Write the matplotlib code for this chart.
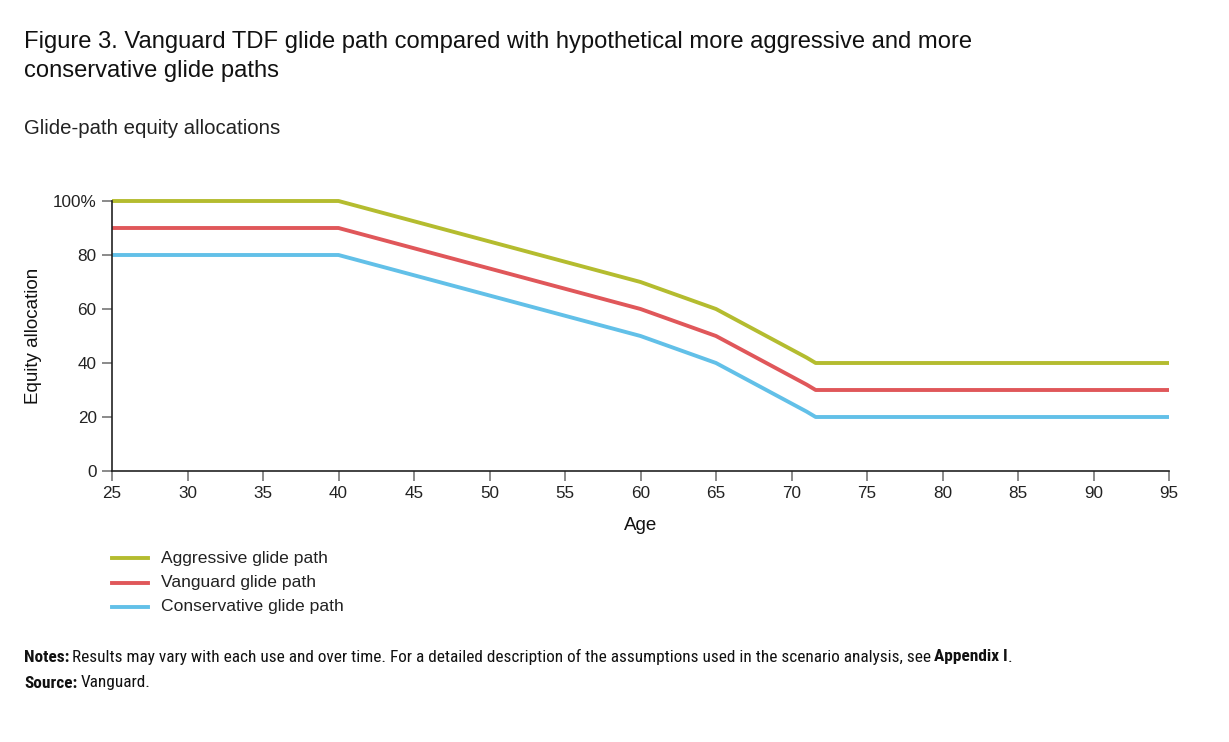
import matplotlib
matplotlib.use("Agg")
import matplotlib.pyplot as plt
from matplotlib.lines import Line2D

ages = [25, 40, 41, 42, 43, 44, 45, 46, 47, 48, 49, 50, 51, 52, 53, 54, 55, 56, 57, 58,
        59, 60, 61, 62, 63, 64, 65, 66, 67, 68, 69, 70, 71, 71.6, 95]
vanguard = [90, 90, 88.5, 87, 85.5, 84, 82.5, 81, 79.5, 78, 76.5, 75, 73.5, 72, 70.5, 69,
            67.5, 66, 64.5, 63, 61.5, 60, 58, 56, 54, 52, 50, 47, 44, 41,
            38, 35, 32, 30, 30]
aggressive = [100, 100, 98.5, 97, 95.5, 94, 92.5, 91, 89.5, 88, 86.5, 85, 83.5, 82, 80.5, 79,
              77.5, 76, 74.5, 73, 71.5, 70, 68, 66, 64, 62, 60, 57, 54, 51,
              48, 45, 42, 40, 40]
conservative = [80, 80, 78.5, 77, 75.5, 74, 72.5, 71, 69.5, 68, 66.5, 65, 63.5, 62, 60.5, 59,
                57.5, 56, 54.5, 53, 51.5, 50, 48, 46, 44, 42, 40, 37, 34, 31,
                28, 25, 22, 20, 20]

series_names = ["Aggressive glide path", "Vanguard glide path", "Conservative glide path"]
colors = ["#B4BC2F", "#E0575A", "#62C0E8"]
xticks = [25, 30, 35, 40, 45, 50, 55, 60, 65, 70, 75, 80, 85, 90, 95]
yticks = [0, 20, 40, 60, 80, 100]
ytick_labels = ["0", "20", "40", "60", "80", "100%"]

plt.rcParams['font.family'] = ['Liberation Sans', 'DejaVu Sans']
W, H = 1229, 742
fig = plt.figure(figsize=(W / 100, H / 100), dpi=100)
ax = fig.add_axes([112 / W, 1 - 471 / H, 1057 / W, 270 / H])

for vals, c in zip([aggressive, vanguard, conservative], colors):
    ax.plot(ages, vals, color=c, lw=2.8, solid_capstyle='butt', clip_on=False)

ax.set_xlim(25, 95)
ax.set_ylim(0, 100)
ax.set_xticks(xticks)
ax.set_yticks(yticks)
ax.set_yticklabels(ytick_labels)
for s in ["top", "right"]:
    ax.spines[s].set_visible(False)
for s in ["left", "bottom"]:
    ax.spines[s].set_color("#222222")
    ax.spines[s].set_linewidth(1.2)
ax.tick_params(axis='both', direction='out', length=7, width=1.2, color="#777777",
               labelsize=12.3, labelcolor="#222222", pad=4)
ax.set_xlabel("Age", fontsize=13.5, color="#111111", labelpad=11)
ax.set_ylabel("Equity allocation", fontsize=13.5, color="#111111", labelpad=8)

fig.text(24 / W, 1 - 42 / H, "Figure 3. Vanguard TDF glide path compared with hypothetical more aggressive and more",
         fontsize=17.1, color="#111111", va='center', ha='left')
fig.text(24 / W, 1 - 71 / H, "conservative glide paths",
         fontsize=17.1, color="#111111", va='center', ha='left')
fig.text(24 / W, 1 - 129 / H, "Glide-path equity allocations",
         fontsize=14.7, color="#222222", va='center', ha='left')

# legend
for i, (name, c) in enumerate(zip(series_names, colors)):
    y = 1 - (558 + 24.5 * i) / H
    fig.add_artist(Line2D([112 / W, 148 / W], [y, y], color=c, lw=2.8, transform=fig.transFigure))
    fig.text(161 / W, y, name, fontsize=12.6, color="#222222", va='center', ha='left')

narrow = ['Liberation Sans Narrow', 'Roboto Condensed', 'DejaVu Sans']
fs_n = 12.4
y1 = 1 - 657 / H
t = fig.text(24 / W, y1, "Notes:", fontsize=fs_n, fontweight='bold', family=narrow, va='center', ha='left', color="#111111")
fig.canvas.draw()
r = fig.canvas.get_renderer()
bb = t.get_window_extent(r)
t2 = fig.text(bb.x1 / W + 3 / W, y1, "Results may vary with each use and over time. For a detailed description of the assumptions used in the scenario analysis, see",
              fontsize=fs_n, family=narrow, va='center', ha='left', color="#111111")
bb2 = t2.get_window_extent(r)
t3 = fig.text(bb2.x1 / W + 3 / W, y1, "Appendix I", fontsize=fs_n, fontweight='bold', family=narrow, va='center', ha='left', color="#111111")
bb3 = t3.get_window_extent(r)
fig.text(bb3.x1 / W, y1, ".", fontsize=fs_n, family=narrow, va='center', ha='left', color="#111111")

y2 = 1 - 683 / H
t = fig.text(24 / W, y2, "Source:", fontsize=fs_n, fontweight='bold', family=narrow, va='center', ha='left', color="#111111")
bb = t.get_window_extent(r)
fig.text(bb.x1 / W + 3 / W, y2, "Vanguard.", fontsize=fs_n, family=narrow, va='center', ha='left', color="#111111")

fig.savefig("out.png", dpi=100)
